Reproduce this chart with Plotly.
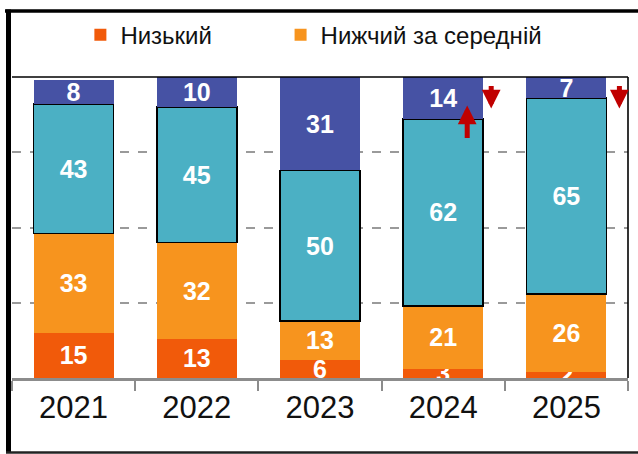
import plotly.graph_objects as go

years = ["2021", "2022", "2023", "2024", "2025"]
low = [15, 13, 6, 3, 2]
below_avg = [33, 32, 13, 21, 26]
above_avg = [43, 45, 50, 62, 65]
high = [8, 10, 31, 14, 7]

names = ["Низький", "Нижчий за середній", "Вищий за середній", "Високий"]
colors = ["#F15A0A", "#F7941E", "#4BB0C4", "#4652A4"]
series = [low, below_avg, above_avg, high]
legends = ["legend", "legend2", "legend", "legend"]

LABEL_FONT = dict(family="Liberation Sans Narrow, Arial Narrow, Liberation Sans, sans-serif",
                  size=25, color="white")

fig = go.Figure()
for i, (nm, col, vals) in enumerate(zip(names, colors, series)):
    fig.add_trace(go.Bar(
        x=years, y=vals, name=nm,
        marker=dict(color=col,
                    line=dict(color="black", width=1.6 if i == 2 else 0)),
        text=[f"<b>{v}</b>" for v in vals],
        textposition="inside", insidetextanchor="middle",
        constraintext="none", textangle=0,
        textfont=LABEL_FONT,
        showlegend=(i < 2),
        legend=legends[i],
    ))

def px2x(px):
    return (px - 12) / 616

def py2y(py):
    return (378 - py) / 301

shapes = [
    dict(type="line", xref="paper", yref="paper", x0=0, x1=1, y0=1, y1=1,
         line=dict(color="black", width=1.6), layer="above"),
    dict(type="line", xref="paper", yref="paper", x0=1, x1=1, y0=0, y1=1,
         line=dict(color="black", width=1.6), layer="above"),
    dict(type="line", xref="paper", yref="paper", x0=px2x(5), x1=px2x(640),
         y0=py2y(11), y1=py2y(11), line=dict(color="black", width=3.5)),
    dict(type="line", xref="paper", yref="paper", x0=px2x(8.5), x1=px2x(8.5),
         y0=py2y(9.5), y1=py2y(453), line=dict(color="black", width=5)),
    dict(type="line", xref="paper", yref="paper", x0=px2x(6), x1=px2x(640),
         y0=py2y(452.5), y1=py2y(452.5), line=dict(color="#222222", width=2.5)),
]

i24, i25 = years.index("2024"), years.index("2025")
arrow_style = dict(showarrow=True, arrowhead=2, arrowsize=0.75, arrowwidth=5,
                   arrowcolor="#C00000", text="", axref="pixel", ayref="pixel")
annotations = [
    dict(x=i24, y=89.5, xshift=48, ax=0, ay=-24, **arrow_style),
    dict(x=i25, y=89.5, xshift=53, ax=0, ay=-24, **arrow_style),
    dict(x=i24, y=90.5, xshift=24, ax=0, ay=34, **arrow_style),
]

leg_common = dict(orientation="h", xanchor="left", y=1.139, yanchor="middle",
                  font=dict(size=24, color="#111111"), bgcolor="rgba(0,0,0,0)")

fig.update_layout(
    barmode="stack",
    bargap=0.35,
    width=638, height=454,
    margin=dict(l=12, r=10, t=77, b=76, autoexpand=False),
    paper_bgcolor="white", plot_bgcolor="white",
    font=dict(family="Liberation Sans, Arial, sans-serif", color="#111111"),
    legend=dict(x=0.111, **leg_common),
    legend2=dict(x=0.436, **leg_common),
    xaxis=dict(type="category", range=[-0.5, len(years) - 0.5], autorange=False,
               showline=True, linecolor="#8C8C8C", linewidth=2.5,
               ticks="outside", tickson="boundaries", ticklen=10,
               tickcolor="#8C8C8C", tickwidth=2,
               tickfont=dict(size=31, color="#111111"), showgrid=False),
    yaxis=dict(range=[0, 100], autorange=False, tickvals=[25, 50, 75], showticklabels=False,
               showgrid=True, gridcolor="#9A9A9A", gridwidth=1.5, griddash="dash",
               zeroline=False, showline=False),
    shapes=shapes,
    annotations=annotations,
)

fig.write_html("out.html", config={"displayModeBar": False},
               post_script="document.body.style.margin='0';")
